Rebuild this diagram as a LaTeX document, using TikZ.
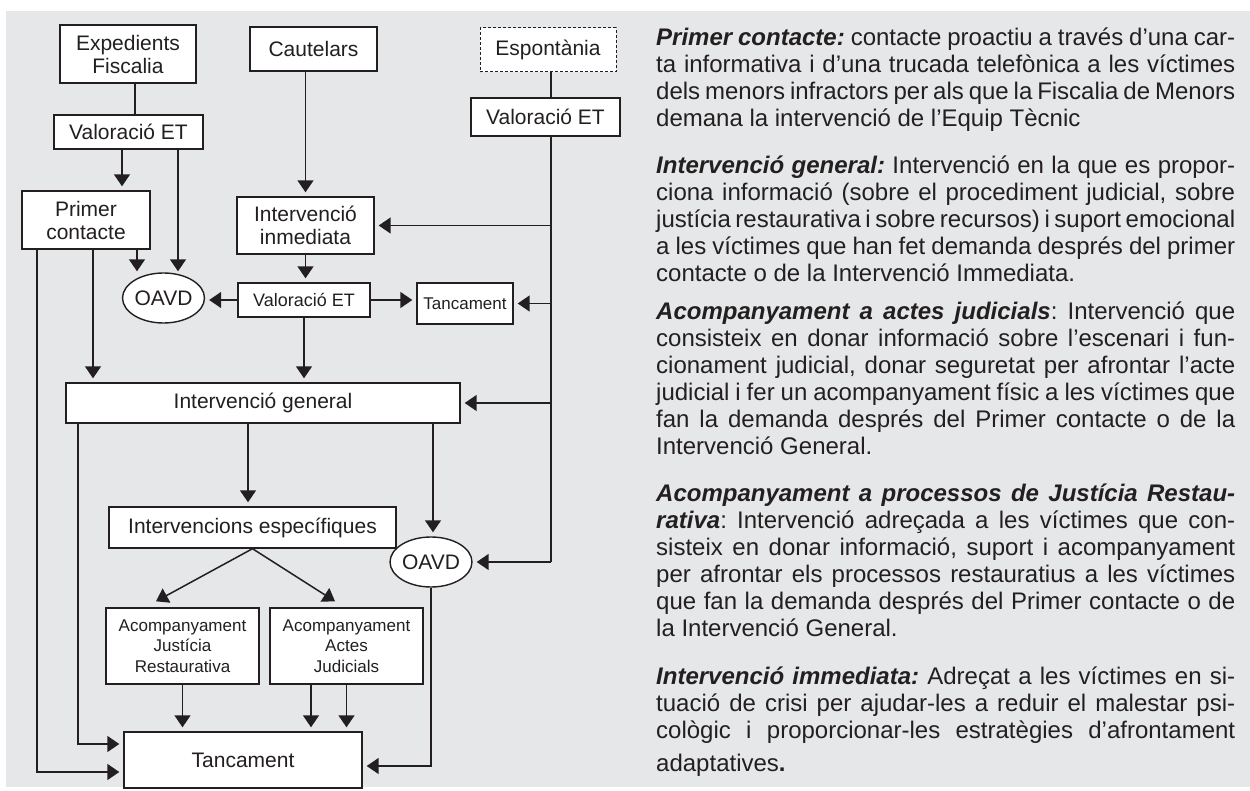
\documentclass[tikz,border=0pt]{standalone}
\usepackage{fontspec}
\setmainfont{Liberation Sans}
\usetikzlibrary{arrows.meta,shapes.geometric,calc}
\definecolor{bg}{HTML}{E6E7E8}
\definecolor{ink}{HTML}{231F20}
\frenchspacing
\begin{document}
\begin{tikzpicture}[x=1pt,y=-1pt,
  box/.style={draw=ink, line width=1.4pt, fill=white, inner sep=0pt, align=center, text=ink,
    font=\fontsize{21}{23}\selectfont},
  smallbox/.style={box, font=\fontsize{17}{20.7}\selectfont},
  oval/.style={box, ellipse},
  ln/.style={draw=ink, line width=1.5pt},
  arr/.style={ln, -{Triangle[width=16pt,length=12pt]}, shorten >=4pt},
  para/.style={anchor=base west, inner sep=0pt, text width=579pt, text=ink, align=justify,
    font=\fontsize{24}{27}\selectfont}
]
\useasboundingbox (0,0) rectangle (1250,791);
\fill[bg] (6,11) rectangle (1250,787);

% ---------- nodes ----------
\node[box, minimum width=136pt, minimum height=58pt] (exp) at (128,54) {Expedients\\Fiscalia};
\node[box, minimum width=127pt, minimum height=44pt] (cau) at (313.5,49) {Cautelars};
\node[box, dash pattern=on 3pt off 2pt, line width=1pt, minimum width=136pt, minimum height=44pt] (esp) at (548,50) {Espontània};
\node[box, minimum width=149pt, minimum height=34pt] (val1) at (128.5,132) {Valoració ET};
\node[box, minimum width=149pt, minimum height=38pt] (val2) at (545.5,117) {Valoració ET};
\node[box, minimum width=128pt, minimum height=58pt] (pc) at (86,220) {Primer\\contacte};
\node[box, minimum width=137pt, minimum height=57pt] (ii) at (305.5,225.5) {Intervenció\\inmediata};
\node[oval, minimum width=79pt, minimum height=50pt] (oavd1) at (163.5,298) {OAVD};
\node[box, font=\fontsize{18}{21}\selectfont, minimum width=132pt, minimum height=34pt] (val3) at (304,300) {Valoració ET};
\node[smallbox, minimum width=96pt, minimum height=41pt] (tan1) at (465,303.5) {Tancament};
\node[box, minimum width=394pt, minimum height=40pt] (ig) at (263,403) {Intervenció general};
\node[box, minimum width=287pt, minimum height=41pt] (ie) at (252.5,527.5) {Intervencions específiques};
\node[oval, minimum width=80pt, minimum height=50pt] (oavd2) at (431,562) {OAVD};
\node[smallbox, minimum width=153pt, minimum height=76pt] (jr) at (182.5,646) {Acompanyament\\Justícia\\Restaurativa};
\node[smallbox, minimum width=153pt, minimum height=76pt] (aj) at (346.5,646) {Acompanyament\\Actes\\Judicials};
\node[box, minimum width=238pt, minimum height=56pt] (tan2) at (243,760) {Tancament};

% ---------- connectors ----------
\draw[ln] (135,0 |- exp.south) -- (135,0 |- val1.north);
\draw[ln] (551,0 |- esp.south) -- (551,0 |- val2.north);
\draw[arr] (122,0 |- val1.south) -- (122,0 |- pc.north);
\draw[arr, shorten >=1pt] (178,0 |- val1.south) -- (178,0 |- oavd1.north);
\draw[arr, shorten >=1pt] (137,0 |- pc.south) -- (137,0 |- oavd1.north);
\draw[arr] (93,0 |- pc.south) -- (93,0 |- ig.north);
\draw[arr] (37,0 |- pc.south) |- ([yshift=-12pt]tan2.west);
\draw[arr] (ii.north |- cau.south) -- (ii.north);
\draw[arr] (ii.south) -- (ii.south |- val3.north);
\draw[arr] (val3.west) -- (oavd1.east |- val3.west);
\draw[arr] (val3.east) -- (tan1.west |- val3.east);
\draw[arr] (val3.south) -- (val3.south |- ig.north);
% right-hand trunk
\draw[ln] (551,0 |- val2.south) -- (551,0 |- oavd2.east);
\draw[arr] (551,0 |- ii.east) -- (ii.east);
\draw[arr] (551,0 |- tan1.east) -- (tan1.east);
\draw[arr] (551,0 |- ig.east) -- (ig.east);
\draw[arr] (551,0 |- oavd2.east) -- (oavd2.east);
% lower part
\draw[arr] (248,0 |- ig.south) -- (248,0 |- ie.north);
\draw[arr] (433,0 |- ig.south) -- (433,0 |- oavd2.north);
\draw[arr] (78,0 |- ig.south) |- ([yshift=16pt]tan2.west);
\draw[arr, shorten >=0pt] (ie.south) -- ($(jr.north)+(-26.5,-6)$);
\draw[arr, shorten >=0pt] (ie.south) -- ($(aj.north)+(-11.5,-6)$);
\draw[arr] (jr.south) -- (jr.south |- tan2.north);
\draw[arr] (311,0 |- aj.south) -- (311,0 |- tan2.north);
\draw[arr] (aj.south) -- (aj.south |- tan2.north);
\draw[arr] (oavd2.south) |- ([yshift=-6pt]tan2.east);

% ---------- right-hand text ----------
\node[para] (t1) at (656,46) {\tolerance=9999\hyphenpenalty=10000\baselineskip=26pt
\textbf{\textit{Primer contacte:}} contacte proactiu a través d’una car-\linebreak
ta informativa i d’una trucada telefònica a les víctimes\linebreak
dels menors infractors per als que la Fiscalia de Menors\linebreak
demana la intervenció de l’Equip Tècnic};
\node[para] (t2) at (656,174) {\tolerance=9999\hyphenpenalty=10000\baselineskip=26.5pt
\textbf{\textit{Intervenció general:}} Intervenció en la que es propor-\linebreak
ciona informació (sobre el procediment judicial, sobre\linebreak
justícia restaurativa i sobre recursos) i suport emocional\linebreak
a les víctimes que han fet demanda després del primer\linebreak
contacte o de la Intervenció Immediata.};
\node[para] (t3) at (656,320) {\tolerance=9999\hyphenpenalty=10000\baselineskip=26pt
\textbf{\textit{Acompanyament a actes judicials}}: Intervenció que\linebreak
consisteix en donar informació sobre l’escenari i fun-\linebreak
cionament judicial, donar seguretat per afrontar l’acte\linebreak
judicial i fer un acompanyament físic a les víctimes que\linebreak
fan la demanda després del Primer contacte o de la\linebreak
Intervenció General.};
\node[para] (t4) at (656,501) {\tolerance=9999\hyphenpenalty=10000\baselineskip=27pt
\textbf{\textit{Acompanyament a processos de Justícia Restau-\linebreak
rativa}}: Intervenció adreçada a les víctimes que con-\linebreak
sisteix en donar informació, suport i acompanyament\linebreak
per afrontar els processos restauratius a les víctimes\linebreak
que fan la demanda després del Primer contacte o de\linebreak
la Intervenció General.};
\node[para] (t5) at (656,684) {\tolerance=9999\hyphenpenalty=10000\baselineskip=27.5pt
\textbf{\textit{Intervenció immediata:}} Adreçat a les víctimes en si-\linebreak
tuació de crisi per ajudar-les a reduir el malestar psi-\linebreak
cològic i proporcionar-les estratègies d’afrontament\vadjust{\vskip6.5pt}\linebreak
adaptatives\textbf{.}};
\end{tikzpicture}
\end{document}
